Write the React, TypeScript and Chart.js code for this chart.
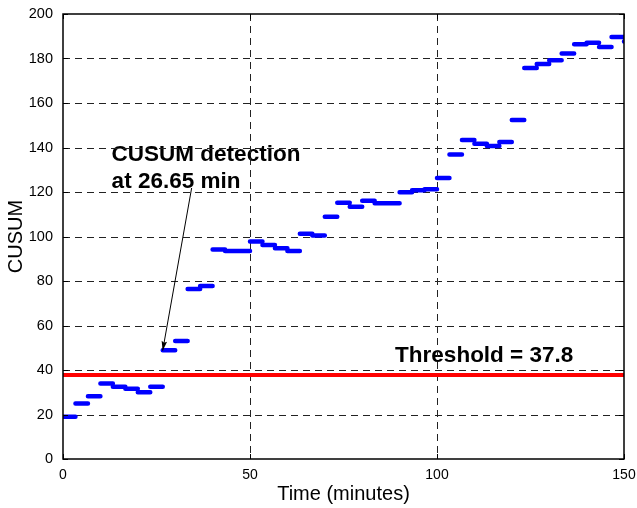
import React, { useEffect, useRef } from 'react';
import { Chart, registerables } from 'chart.js';

Chart.register(...registerables);

// Window boundaries (minutes) of each CUSUM evaluation interval
const intervalEdges = [
  0, 3.33, 6.67, 10, 13.33, 16.67, 20, 23.33, 26.67, 30, 33.33, 36.67, 40, 43.33, 46.67,
  50, 53.33, 56.67, 60, 63.33, 66.67, 70, 73.33, 76.67, 80, 83.33, 86.67, 90, 93.33, 96.67,
  100, 103.33, 106.67, 110, 113.33, 116.67, 120, 123.33, 126.67, 130, 133.33, 136.67, 140,
  143.33, 146.67, 150, 153.33,
];

// CUSUM value held over each interval
const cusumValues = [
  19, 25, 28.2, 33.9, 32.5, 31.6, 30, 32.5, 48.9, 53,
  76.4, 77.8, 94.2, 93.5, 93.5, 97.8, 96.2, 94.7, 93.5, 101.2,
  100.4, 108.9, 115.2, 113.4, 116.1, 115, 115, 119.9, 120.8, 121.2,
  126.3, 136.9, 143.4, 141.7, 140.7, 142.5, 152.4, 175.7, 177.5, 179.2,
  182.2, 186.4, 187.1, 185.2, 189.7, 187.6,
];

const thresholdValue = 37.8;
const xTicks = [0, 50, 100, 150];
const yTicks = [0, 20, 40, 60, 80, 100, 120, 140, 160, 180, 200];

const detectionLabel = ['CUSUM detection', 'at 26.65 min'];
const thresholdLabel = 'Threshold = 37.8';
const detectionPoint = { x: 26.65, y: 48.7 };
const arrowTail = { x: 34.4, y: 121.8 };
const detectionLabelAnchor = { x: 13.0, y: 133.9 };
const thresholdLabelAnchor = { x: 88.8, y: 43.7 };

const FONT = '"Liberation Sans", Arial, Helvetica, sans-serif';

const framePlugin = {
  id: 'matlabFrame',
  beforeDatasetsDraw(chart: any) {
    const { ctx, chartArea: a, scales } = chart;
    const x = scales.x;
    const y = scales.y;
    ctx.save();
    // annotation texts
    ctx.fillStyle = '#000';
    ctx.font = `bold 22.5px ${FONT}`;
    ctx.textAlign = 'left';
    ctx.textBaseline = 'alphabetic';
    const lx = x.getPixelForValue(detectionLabelAnchor.x);
    const ly = y.getPixelForValue(detectionLabelAnchor.y);
    detectionLabel.forEach((t, i) => ctx.fillText(t, lx, ly + i * 27));
    ctx.fillText(
      thresholdLabel,
      x.getPixelForValue(thresholdLabelAnchor.x),
      y.getPixelForValue(thresholdLabelAnchor.y)
    );
    // dashed grid
    ctx.setLineDash([7, 5]);
    ctx.strokeStyle = '#222';
    ctx.lineWidth = 1;
    ctx.beginPath();
    xTicks.forEach((v) => {
      if (v === xTicks[0] || v === xTicks[xTicks.length - 1]) return;
      const px = Math.round(x.getPixelForValue(v)) + 0.5;
      ctx.moveTo(px, a.top);
      ctx.lineTo(px, a.bottom);
    });
    yTicks.forEach((v) => {
      if (v === yTicks[0] || v === yTicks[yTicks.length - 1]) return;
      const py = Math.round(y.getPixelForValue(v)) + 0.5;
      ctx.moveTo(a.left, py);
      ctx.lineTo(a.right, py);
    });
    ctx.stroke();
    ctx.restore();
  },
  afterDatasetsDraw(chart: any) {
    const { ctx, chartArea: a, scales } = chart;
    const x = scales.x;
    const y = scales.y;
    ctx.save();
    // arrow
    const x0 = x.getPixelForValue(arrowTail.x);
    const y0 = y.getPixelForValue(arrowTail.y);
    const x1 = x.getPixelForValue(detectionPoint.x);
    const y1 = y.getPixelForValue(detectionPoint.y);
    ctx.strokeStyle = '#000';
    ctx.fillStyle = '#000';
    ctx.lineWidth = 1;
    ctx.beginPath();
    ctx.moveTo(x0, y0);
    ctx.lineTo(x1, y1);
    ctx.stroke();
    const ang = Math.atan2(y1 - y0, x1 - x0);
    const len = 10;
    const half = 0.28;
    ctx.beginPath();
    ctx.moveTo(x1, y1);
    ctx.lineTo(x1 - len * Math.cos(ang - half), y1 - len * Math.sin(ang - half));
    ctx.lineTo(x1 - len * 0.8 * Math.cos(ang), y1 - len * 0.8 * Math.sin(ang));
    ctx.lineTo(x1 - len * Math.cos(ang + half), y1 - len * Math.sin(ang + half));
    ctx.closePath();
    ctx.fill();
    // box
    ctx.lineWidth = 1.5;
    ctx.strokeRect(a.left, a.top, a.right - a.left, a.bottom - a.top);
    // inside tick marks
    ctx.lineWidth = 1;
    ctx.beginPath();
    const tl = 5;
    xTicks.forEach((v) => {
      const px = Math.round(x.getPixelForValue(v)) + 0.5;
      ctx.moveTo(px, a.bottom);
      ctx.lineTo(px, a.bottom - tl);
      ctx.moveTo(px, a.top);
      ctx.lineTo(px, a.top + tl);
    });
    yTicks.forEach((v) => {
      const py = Math.round(y.getPixelForValue(v)) + 0.5;
      ctx.moveTo(a.left, py);
      ctx.lineTo(a.left + tl, py);
      ctx.moveTo(a.right, py);
      ctx.lineTo(a.right - tl, py);
    });
    ctx.stroke();
    ctx.restore();
  },
};

export default function App() {
  const canvasRef = useRef<HTMLCanvasElement | null>(null);

  useEffect(() => {
    document.body.style.margin = '0';
    const canvas = canvasRef.current;
    if (!canvas) return;

    const stepData: { x: number; y: number | null }[] = [];
    cusumValues.forEach((v, i) => {
      stepData.push({ x: intervalEdges[i], y: v });
      stepData.push({ x: intervalEdges[i + 1], y: v });
      stepData.push({ x: intervalEdges[i + 1], y: null });
    });

    const thresholdData = [
      { x: xTicks[0], y: thresholdValue },
      { x: xTicks[xTicks.length - 1], y: thresholdValue },
    ];

    const chart = new Chart(canvas, {
      type: 'line',
      data: {
        datasets: [
          {
            label: 'Threshold',
            data: thresholdData,
            borderColor: '#ff0000',
            borderWidth: 4,
            pointRadius: 0,
            tension: 0,
          },
          {
            label: 'CUSUM',
            data: stepData as any,
            borderColor: '#0000ff',
            borderWidth: 4.5,
            borderCapStyle: 'round',
            pointRadius: 0,
            spanGaps: false,
            tension: 0,
          },
        ],
      },
      options: {
        responsive: false,
        animation: false,
        events: [],
        layout: { padding: { top: 14, right: 13, left: 0, bottom: 0 } },
        plugins: {
          legend: { display: false },
          tooltip: { enabled: false },
        },
        scales: {
          x: {
            type: 'linear',
            min: 0,
            max: 150,
            grid: { display: false, drawTicks: false },
            border: { display: false },
            afterBuildTicks: (s: any) => {
              s.ticks = xTicks.map((v) => ({ value: v }));
            },
            afterFit: (s: any) => {
              s.height = 49;
              s.paddingLeft = 0;
              s.paddingRight = 0;
            },
            ticks: {
              padding: 8,
              color: '#000',
              maxRotation: 0,
              font: { family: FONT, size: 14 },
            },
            title: {
              display: true,
              text: 'Time (minutes)',
              color: '#000',
              font: { family: FONT, size: 20 },
              padding: { top: 0, bottom: 2 },
            },
          },
          y: {
            type: 'linear',
            min: 0,
            max: 200,
            grid: { display: false, drawTicks: false },
            border: { display: false },
            afterBuildTicks: (s: any) => {
              s.ticks = yTicks.map((v) => ({ value: v }));
            },
            afterFit: (s: any) => {
              s.width = 63;
              s.paddingTop = 0;
              s.paddingBottom = 0;
            },
            ticks: {
              padding: 10,
              color: '#000',
              font: { family: FONT, size: 14.5 },
            },
            title: {
              display: true,
              text: 'CUSUM',
              color: '#000',
              font: { family: FONT, size: 20 },
              padding: { top: 4, bottom: 0 },
            },
          },
        },
      },
      plugins: [framePlugin],
    });

    return () => {
      chart.destroy();
    };
  }, []);

  return (
    <canvas
      ref={canvasRef}
      width={637}
      height={508}
      style={{ display: 'block', width: 637, height: 508 }}
    />
  );
}
